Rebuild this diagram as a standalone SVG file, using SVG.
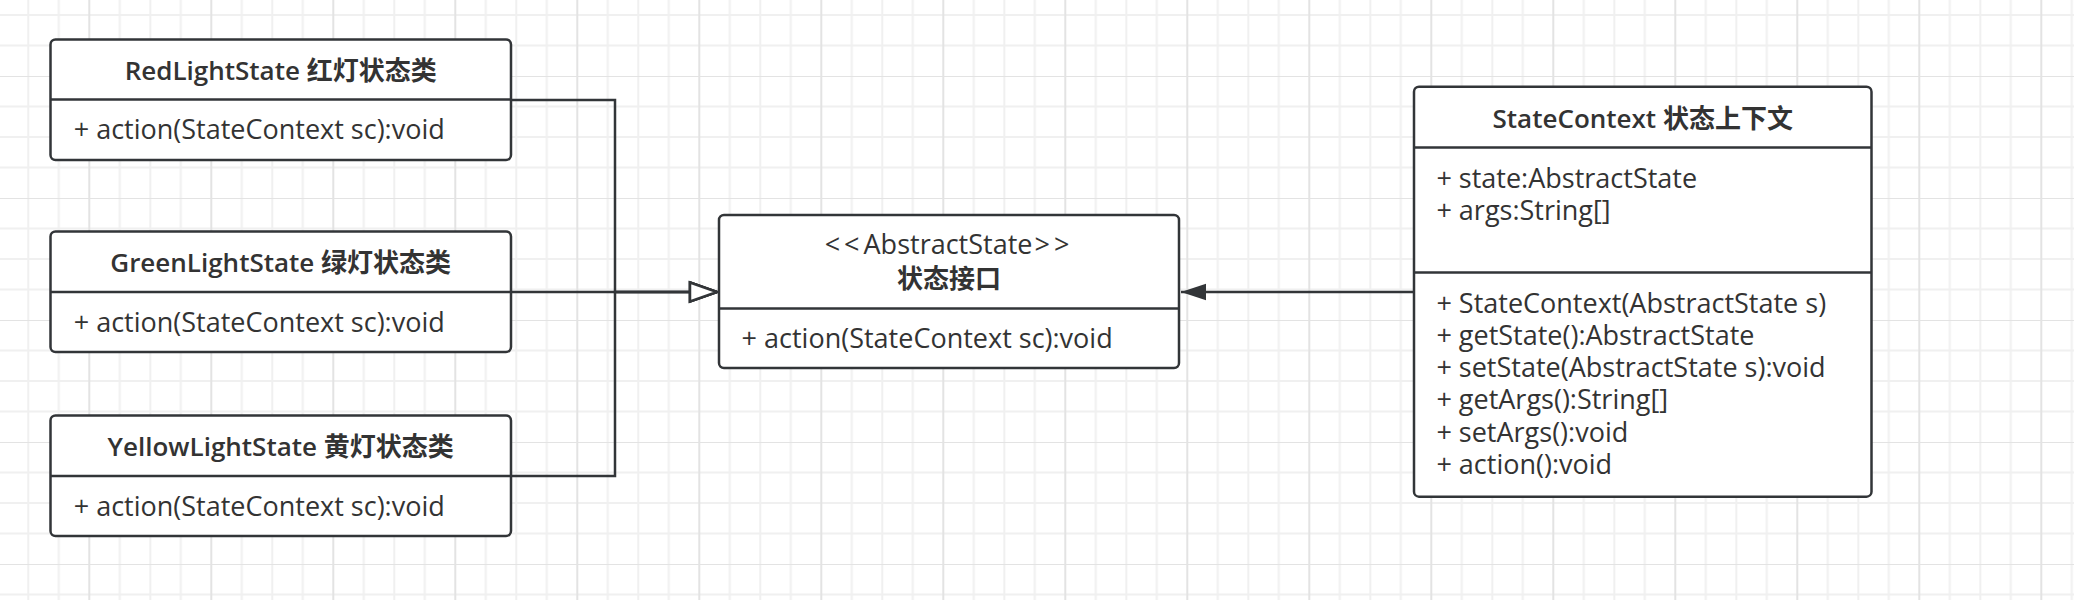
<svg xmlns="http://www.w3.org/2000/svg" width="2074" height="600" viewBox="0 0 2074 600">
<style>
.box{fill:#ffffff;stroke:#323538;stroke-width:2.5}
.div{stroke:#323538;stroke-width:2.5}
.edge{fill:none;stroke:#323538;stroke-width:2.5}
text{font-family:"Open Sans","Noto Sans CJK SC",sans-serif;fill:#333333;font-size:27px}
.t{font-weight:600;font-size:26px;text-anchor:middle}
.s{text-anchor:middle}
</style>
<defs>
<pattern id="grid" patternUnits="userSpaceOnUse" x="-33.7" y="-47" width="122" height="122">
<path d="M31.5 0V122M62 0V122M92.5 0V122M0 31.5H122M0 62H122M0 92.5H122" stroke="#f0f0f0" stroke-width="2" fill="none"/>
<path d="M1 0V122M0 1H122" stroke="#e3e3e3" stroke-width="2" fill="none"/>
</pattern>
<marker id="hollow" markerUnits="userSpaceOnUse" viewBox="-3 -3 34 26" markerWidth="34" markerHeight="26" refX="27" refY="10" orient="auto">
<path d="M0,0.5 L27,10 L0,19.5 Z" fill="#ffffff" stroke="#323538" stroke-width="2.5"/>
</marker>
<marker id="filled" markerUnits="userSpaceOnUse" viewBox="-2 -2 30 21" markerWidth="30" markerHeight="21" refX="25" refY="8.3" orient="auto">
<path d="M0,0 L25,8.3 L0,16.6 Z" fill="#323538"/>
</marker>
</defs>
<rect width="2074" height="600" fill="#ffffff"/>
<rect width="2074" height="600" fill="url(#grid)"/>

<g id="connectors">
<path class="edge" d="M511 100H615V292H717" marker-end="url(#hollow)"/>
<path class="edge" d="M511 292H717" marker-end="url(#hollow)"/>
<path class="edge" d="M511 476H615V292H717" marker-end="url(#hollow)"/>
<path class="edge" d="M1414 292H1181" marker-end="url(#filled)"/>
</g>

<g id="RedLightState">
<rect class="box" x="50.5" y="39.5" width="460.5" height="120.5" rx="5"/>
<line class="div" x1="50.5" y1="99.5" x2="511" y2="99.5"/>
<text class="t" x="280.7" y="80">RedLightState 红灯状态类</text>
<text x="73.7" y="139.3">+ action(StateContext sc):void</text>
</g>

<g id="GreenLightState">
<rect class="box" x="50.5" y="231.5" width="460.5" height="120.5" rx="5"/>
<line class="div" x1="50.5" y1="292" x2="511" y2="292"/>
<text class="t" x="280.7" y="272.2">GreenLightState 绿灯状态类</text>
<text x="73.7" y="331.8">+ action(StateContext sc):void</text>
</g>

<g id="YellowLightState">
<rect class="box" x="50.5" y="415.5" width="460.5" height="120.5" rx="5"/>
<line class="div" x1="50.5" y1="476" x2="511" y2="476"/>
<text class="t" x="280.7" y="456">YellowLightState 黄灯状态类</text>
<text x="73.7" y="515.6">+ action(StateContext sc):void</text>
</g>

<g id="AbstractState">
<rect class="box" x="719" y="215" width="460" height="153" rx="5"/>
<line class="div" x1="719" y1="308.5" x2="1179" y2="308.5"/>
<text class="s" x="949" y="254"><tspan letter-spacing="4">&lt;&lt;</tspan>AbstractState<tspan dx="2" letter-spacing="4">&gt;&gt;</tspan></text>
<text class="t" x="949" y="288.3">状态接口</text>
<text x="741.6" y="348.3">+ action(StateContext sc):void</text>
</g>

<g id="StateContext">
<rect class="box" x="1414" y="86.7" width="457.5" height="410" rx="5"/>
<line class="div" x1="1414" y1="147.5" x2="1871.5" y2="147.5"/>
<line class="div" x1="1414" y1="272.5" x2="1871.5" y2="272.5"/>
<text class="t" x="1642.7" y="128.3">StateContext 状态上下文</text>
<text x="1436.4" y="187.6"><tspan x="1436.4" y="187.6">+ state:AbstractState</tspan><tspan x="1436.4" y="219.6">+ args:String[]</tspan></text>
<text x="1436.4" y="312.8"><tspan x="1436.4" y="312.8">+ StateContext(AbstractState s)</tspan><tspan x="1436.4" y="345">+ getState():AbstractState</tspan><tspan x="1436.4" y="377.2">+ setState(AbstractState s):void</tspan><tspan x="1436.4" y="409.4">+ getArgs():String[]</tspan><tspan x="1436.4" y="441.6">+ setArgs():void</tspan><tspan x="1436.4" y="473.8">+ action():void</tspan></text>
</g>
</svg>
